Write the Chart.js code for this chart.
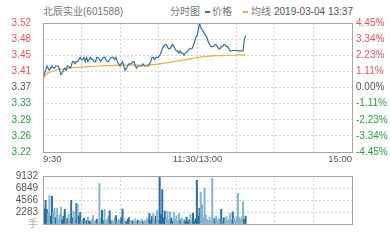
<!DOCTYPE html>
<html>
<head>
<meta charset="utf-8">
<script src="https://cdn.jsdelivr.net/npm/chart.js@4.4.1/dist/chart.umd.min.js"></script>
<style>
  body { margin: 0; background: #fff; }
  #wrap { position: relative; width: 390px; height: 240px; overflow: hidden;
          font-family: "Liberation Sans", "Noto Sans CJK SC", sans-serif; color: #777; }
  #head span { position: absolute; top: 6px; font-size: 10px; line-height: 12px; white-space: nowrap; }
  #head span.dash { top: 11px; width: 5px; height: 1.5px; }
  canvas { position: absolute; left: 0; }
</style>
</head>
<body>
<div id="wrap">
  <div id="head">
    <span style="left:43px">北辰实业(601588)</span>
    <span style="left:170px">分时图</span>
    <span class="dash" style="left:205px;background:#2e72a6"></span>
    <span style="left:212px">价格</span>
    <span class="dash" style="left:243px;background:#f6ae2d"></span>
    <span style="left:251px">均线</span>
    <span style="left:274px;color:#555">2019-03-04 13:37</span>
  </div>
  <canvas id="priceChart" width="390" height="170" style="top:0"></canvas>
  <canvas id="volChart" width="390" height="75" style="top:165px"></canvas>
</div>
<script>
// x axis: minutes since 9:30 (11:30 and 13:00 share the middle)
const timeLabels = ['9:30', '11:30/13:00', '15:00'];
const timeTickMinutes = [0, 120.5, 241];

const priceTickValues = [3.52, 3.4825, 3.445, 3.4075, 3.37, 3.3325, 3.295, 3.2575, 3.22];
const priceTickLabels = ['3.52', '3.48', '3.45', '3.41', '3.37', '3.33', '3.29', '3.26', '3.22'];
const pctTickValues = [4.45, 3.34, 2.23, 1.11, 0, -1.11, -2.23, -3.34, -4.45];
const pctTickLabels = ['4.45%', '3.34%', '2.23%', '1.11%', '0.00%', '-1.11%', '-2.23%', '-3.34%', '-4.45%'];
const volTickValues = [9132, 6849, 4566, 2283, 0];
const volTickLabels = ['9132', '6849', '4566', '2283', '手'];

const price = [
  3.39, 3.40, 3.41, 3.42, 3.415, 3.41, 3.415, 3.42, 3.415, 3.415,
  3.42, 3.42, 3.42, 3.41, 3.40, 3.405, 3.41, 3.415, 3.41, 3.42,
  3.42, 3.415, 3.42, 3.43, 3.43, 3.425, 3.43, 3.43, 3.435, 3.44,
  3.435, 3.435, 3.44, 3.43, 3.44, 3.43, 3.435, 3.44, 3.435, 3.435,
  3.43, 3.43, 3.44, 3.44, 3.435, 3.43, 3.435, 3.44, 3.44, 3.435,
  3.43, 3.43, 3.435, 3.44, 3.44, 3.44, 3.435, 3.44, 3.43, 3.425,
  3.42, 3.425, 3.43, 3.42, 3.41, 3.415, 3.42, 3.425, 3.425, 3.425,
  3.43, 3.43, 3.42, 3.415, 3.42, 3.42, 3.42, 3.42, 3.425, 3.42,
  3.42, 3.42, 3.42, 3.425, 3.43, 3.44, 3.44, 3.435, 3.44, 3.44,
  3.44, 3.445, 3.45, 3.46, 3.465, 3.47, 3.47, 3.465, 3.46, 3.46,
  3.465, 3.47, 3.465, 3.46, 3.455, 3.455, 3.45, 3.455, 3.45, 3.45,
  3.445, 3.45, 3.452, 3.455, 3.46, 3.46, 3.46, 3.465, 3.475, 3.485,
  3.49, 3.50, 3.52, 3.51, 3.505, 3.50, 3.495, 3.49, 3.485, 3.475,
  3.47, 3.465, 3.465, 3.465, 3.47, 3.47, 3.465, 3.46, 3.46, 3.465,
  3.465, 3.47, 3.47, 3.465, 3.465, 3.46, 3.455, 3.455, 3.456, 3.456,
  3.456, 3.456, 3.455, 3.455, 3.455, 3.455, 3.455, 3.48, 3.49
];

const avgPrice = [
  3.390, 3.395, 3.399, 3.402, 3.404, 3.405, 3.406, 3.407, 3.408, 3.409,
  3.410, 3.411, 3.412, 3.413, 3.413, 3.413, 3.414, 3.414, 3.414, 3.415,
  3.415, 3.415, 3.415, 3.416, 3.416, 3.416, 3.416, 3.417, 3.417, 3.417,
  3.417, 3.418, 3.418, 3.418, 3.418, 3.419, 3.419, 3.419, 3.419, 3.419,
  3.420, 3.420, 3.420, 3.420, 3.420, 3.420, 3.421, 3.421, 3.421, 3.421,
  3.421, 3.421, 3.421, 3.421, 3.421, 3.421, 3.422, 3.422, 3.422, 3.422,
  3.422, 3.422, 3.422, 3.422, 3.422, 3.422, 3.422, 3.422, 3.422, 3.422,
  3.422, 3.422, 3.422, 3.422, 3.422, 3.422, 3.422, 3.422, 3.422, 3.422,
  3.422, 3.422, 3.422, 3.422, 3.423, 3.423, 3.423, 3.423, 3.424, 3.424,
  3.424, 3.425, 3.425, 3.426, 3.426, 3.427, 3.427, 3.428, 3.428, 3.429,
  3.429, 3.430, 3.430, 3.431, 3.431, 3.432, 3.432, 3.433, 3.433, 3.434,
  3.434, 3.435, 3.435, 3.436, 3.436, 3.437, 3.437, 3.438, 3.438, 3.439,
  3.439, 3.440, 3.440, 3.441, 3.441, 3.442, 3.442, 3.442, 3.443, 3.443,
  3.443, 3.443, 3.443, 3.444, 3.444, 3.444, 3.444, 3.444, 3.444, 3.444,
  3.444, 3.445, 3.445, 3.445, 3.445, 3.445, 3.445, 3.445, 3.445, 3.445,
  3.445, 3.446, 3.446, 3.446, 3.446, 3.446, 3.446, 3.446, 3.446
];

const volume = [
  6300, 2900, 4500, 2800, 2000, 5400, 1500, 5300, 2200, 3000,
  1200, 3000, 900, 1800, 3200, 800, 1500, 2800, 700, 1100,
  1900, 800, 4500, 1200, 2400, 900, 3900, 3800, 1500, 2200,
  600, 900, 1100, 500, 700, 1300, 600, 400, 800, 1600,
  500, 700, 900, 600, 7700, 1100, 2600, 700, 2800, 600,
  900, 1500, 2500, 600, 800, 400, 1200, 1600, 500, 900,
  700, 1200, 2850, 1000, 600, 400, 900, 1200, 500, 700,
  600, 400, 1000, 500, 700, 300, 600, 900, 400, 700,
  500, 1100, 900, 2000, 600, 1400, 2000, 800, 1500, 2600,
  700, 9132, 1800, 6550, 1200, 2450, 1000, 2400, 800, 2300,
  1100, 600, 2200, 900, 1600, 500, 2000, 700, 1200, 500,
  900, 600, 1300, 400, 800, 1900, 700, 2100, 500, 1000,
  8300, 1500, 3000, 6000, 3700, 1200, 6850, 1800, 900, 600,
  1300, 700, 8700, 1200, 900, 1500, 600, 1100, 800, 2800,
  700, 1200, 500, 1400, 600, 900, 2000, 800, 2300, 1100,
  600, 1400, 5800, 1300, 800, 1300, 4200, 900, 1500
];

const FONT = '"Liberation Sans", "Noto Sans CJK SC", sans-serif';
const RED = '#f4505a', GREEN = '#22a63a', GREY = '#555';
const gridColor = '#d4d4d4';
const signColor = i => i < 4 ? RED : (i === 4 ? GREY : GREEN);
const vGrid = s => { s.ticks = [0, 1, 2, 3, 4, 5, 6, 7, 8].map(i => ({ value: i * 241 / 8 })); };

// plot frame + time labels
const frame = {
  id: 'frame',
  afterDatasetsDraw(chart, args, opts) {
    const a = chart.chartArea, ctx = chart.ctx;
    ctx.save();
    ctx.strokeStyle = '#a5a5a5';
    ctx.lineWidth = 1;
    ctx.strokeRect(Math.round(a.left) + 0.5, Math.round(a.top) + 0.5, Math.round(a.right - a.left), Math.round(a.bottom - a.top));
    if (opts.timeLabels) {
      ctx.fillStyle = GREY;
      ctx.font = '9.5px ' + FONT;
      ctx.textBaseline = 'middle';
      timeLabels.forEach((t, i) => {
        ctx.textAlign = i === 0 ? 'left' : (i === timeLabels.length - 1 ? 'right' : 'center');
        ctx.fillText(t, chart.scales.x.getPixelForValue(timeTickMinutes[i]), a.bottom + 7);
      });
    }
    ctx.restore();
  }
};

new Chart(document.getElementById('priceChart').getContext('2d'), {
  type: 'line',
  data: { datasets: [
    { label: '价格', data: price.map((v, i) => ({ x: i, y: v })), borderColor: '#2e72a6', borderWidth: 1.2, pointRadius: 0, tension: 0 },
    { label: '均线', data: avgPrice.map((v, i) => ({ x: i, y: v })), borderColor: '#f6ae2d', borderWidth: 1.2, pointRadius: 0, tension: 0 }
  ]},
  options: {
    responsive: false, animation: false, events: [],
    layout: { padding: { top: 23, bottom: 0, left: 0, right: 0 } },
    plugins: { legend: { display: false }, tooltip: { enabled: false }, frame: { timeLabels: true } },
    scales: {
      x: { type: 'linear', min: 0, max: 241, afterBuildTicks: vGrid, ticks: { display: false },
           grid: { color: gridColor, drawTicks: false }, border: { display: false, dash: [2, 2] },
           afterFit: s => { s.height = 16; } },
      y: { position: 'left', min: 3.22, max: 3.52,
           afterBuildTicks: s => { s.ticks = priceTickValues.map(v => ({ value: v })); },
           ticks: { autoSkip: false, padding: 12, callback: (v, i) => priceTickLabels[i], color: c => signColor(c.index), font: { size: 10, family: FONT } },
           grid: { color: gridColor, drawTicks: false }, border: { display: false, dash: [2, 2] },
           afterFit: s => { s.width = 43; } },
      y2: { position: 'right', min: -4.45, max: 4.45,
           afterBuildTicks: s => { s.ticks = pctTickValues.map(v => ({ value: v })); },
           ticks: { autoSkip: false, padding: 4, callback: (v, i) => pctTickLabels[i], color: c => signColor(c.index), font: { size: 10, family: FONT } },
           grid: { display: false, drawTicks: false }, border: { display: false },
           afterFit: s => { s.width = 38; } }
    }
  },
  plugins: [frame]
});

new Chart(document.getElementById('volChart').getContext('2d'), {
  type: 'bar',
  data: { datasets: [{
    data: volume.map((v, i) => ({ x: i, y: v })),
    // lighter bar when the minute did not close higher
    backgroundColor: volume.map((v, i) => i > 0 && price[i] <= price[i - 1] ? '#82b5cd' : '#2a6ea3'),
    barThickness: 1.3, borderWidth: 0
  }]},
  options: {
    responsive: false, animation: false, events: [],
    layout: { padding: { top: 6, bottom: 0, left: 0, right: 38 } },
    plugins: { legend: { display: false }, tooltip: { enabled: false } },
    scales: {
      x: { type: 'linear', min: 0, max: 241, offset: false, afterBuildTicks: vGrid, ticks: { display: false },
           grid: { color: gridColor, drawTicks: false, offset: false }, border: { display: false, dash: [2, 2] },
           afterFit: s => { s.height = 16; } },
      y: { position: 'left', min: 0, max: 9132,
           afterBuildTicks: s => { s.ticks = volTickValues.map(v => ({ value: v })); },
           ticks: { autoSkip: false, padding: 5, callback: (v, i) => volTickLabels[i], color: c => c.index === 4 ? '#aaa' : GREY, font: { size: 10, family: FONT } },
           grid: { color: gridColor, drawTicks: false }, border: { display: false, dash: [2, 2] },
           afterFit: s => { s.width = 43; } }
    }
  },
  plugins: [frame]
});
</script>
</body>
</html>
